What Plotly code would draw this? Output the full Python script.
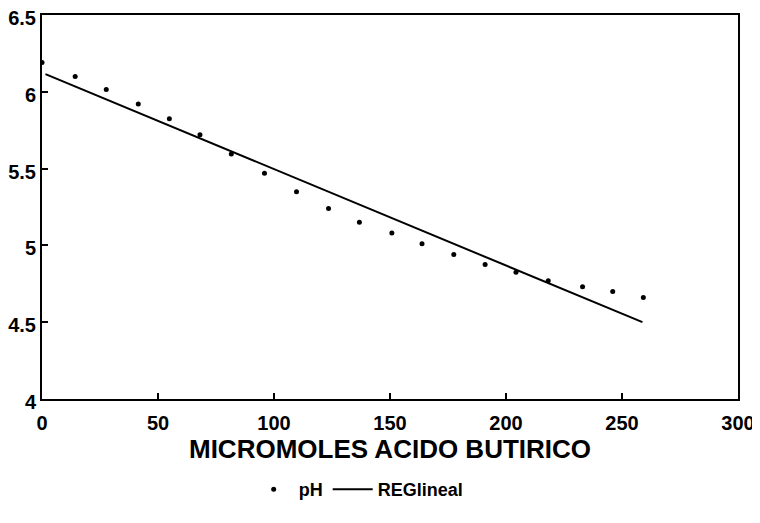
import plotly.graph_objects as go

# Data
acid_umol = [0, 14.3, 27.7, 41.5, 54.9, 68.1, 81.6, 95.9, 109.7, 123.5,
             136.8, 150.8, 163.8, 177.5, 191.0, 204.3, 218.2, 233.0, 246.0, 259.2]
ph_values = [6.19, 6.10, 6.015, 5.92, 5.825, 5.72, 5.595, 5.47, 5.35, 5.24,
             5.15, 5.08, 5.01, 4.94, 4.875, 4.825, 4.77, 4.73, 4.70, 4.66]
reg_x = [1.5, 258.8]
reg_y = [6.115, 4.50]

x_ticks = [0, 50, 100, 150, 200, 250, 300]
y_ticks = [4, 4.5, 5, 5.5, 6, 6.5]

font_family = "Liberation Sans, Arial, sans-serif"

fig = go.Figure()
fig.add_trace(go.Scatter(
    x=acid_umol, y=ph_values, mode="markers", name="pH",
    marker=dict(color="black", size=5),
))
fig.add_trace(go.Scatter(
    x=reg_x, y=reg_y, mode="lines", name="REGlineal",
    line=dict(color="black", width=2),
))

axis_common = dict(
    showline=True, linecolor="black", linewidth=2, mirror=True,
    ticks="inside", ticklen=6, tickwidth=2, tickcolor="black",
    showgrid=False, zeroline=False, automargin=False,
    ticklabeloverflow="allow",
)

# page body has an 8px margin, so the figure is sized/offset to compensate
fig.update_layout(
    width=752, height=515,
    margin=dict(l=34, r=22, t=7, b=124, autoexpand=False),
    paper_bgcolor="white", plot_bgcolor="white",
    font=dict(family=font_family, color="black", weight="bold"),
    xaxis=dict(range=[0, 300], tickvals=x_ticks,
               tickfont=dict(size=20, family=font_family, weight="bold"),
               ticklabelstandoff=5,
               title=dict(text="MICROMOLES ACIDO BUTIRICO",
                          font=dict(size=26, family=font_family, weight="bold"),
                          standoff=6),
               **axis_common),
    yaxis=dict(range=[4, 6.5], tickvals=y_ticks,
               tickfont=dict(size=20, family=font_family, weight="bold"),
               ticklabelshift=3,
               **axis_common),
    legend=dict(orientation="h", x=0.455, xanchor="center", y=-0.1875, yanchor="top",
                font=dict(size=18, family=font_family, weight="bold"),
                itemwidth=40),
    showlegend=True,
)

fig.write_html("out.html")
